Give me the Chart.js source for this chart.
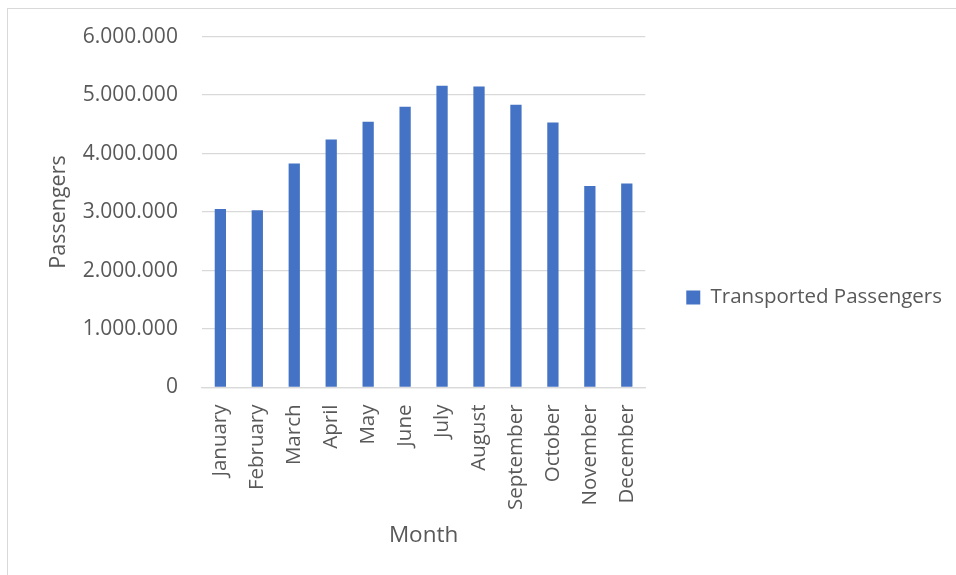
<!DOCTYPE html>
<html>
<head>
<meta charset="utf-8">
<script src="https://cdn.jsdelivr.net/npm/chart.js@4/dist/chart.umd.min.js"></script>
<style>
  html, body { margin: 0; padding: 0; background: #ffffff; }
  #wrap { position: relative; width: 956px; height: 575px; overflow: hidden; }
  #frame { position: absolute; left: 7px; top: 8px; width: 980px; height: 600px; border: 1px solid #d9d9d9; box-sizing: border-box; }
  #c { position: absolute; left: 0; top: 0; }
</style>
</head>
<body>
<div id="wrap">
  <div id="frame"></div>
  <canvas id="c" width="956" height="575"></canvas>
</div>
<script>
const months = ["January","February","March","April","May","June","July","August","September","October","November","December"];
const passengers = [3050000, 3030000, 3830000, 4240000, 4545000, 4800000, 5160000, 5145000, 4835000, 4530000, 3445000, 3490000];
const seriesName = "Transported Passengers";
const yTicks = [0, 1000000, 2000000, 3000000, 4000000, 5000000, 6000000];

const textColor = "#595959";
const gridColor = "#d9d9d9";
const fontFamily = "'Open Sans', sans-serif";

function fmt(v) {
  return String(Math.round(v)).replace(/\B(?=(\d{3})+(?!\d))/g, ".");
}

// shift the legend vertically after layout
const legendShift = {
  id: "legendShift",
  afterLayout(chart) {
    const l = chart.legend;
    if (!l) return;
    const dy = 10;
    l.top += dy;
    l.bottom += dy;
  }
};

new Chart(document.getElementById("c"), {
  type: "bar",
  data: {
    labels: months,
    datasets: [{
      label: seriesName,
      data: passengers,
      backgroundColor: "#4472C4",
      borderWidth: 0,
      barPercentage: 0.305,
      categoryPercentage: 1.0
    }]
  },
  options: {
    responsive: false,
    animation: false,
    devicePixelRatio: 1,
    layout: { padding: { left: 46, right: 4, top: 26, bottom: 26 } },
    plugins: {
      tooltip: { enabled: false },
      legend: {
        position: "right",
        maxWidth: 320,
        labels: {
          color: textColor,
          font: { family: fontFamily, size: 20.5 },
          boxWidth: 14,
          boxHeight: 14,
          padding: 41
        }
      }
    },
    scales: {
      x: {
        grid: { display: false, drawTicks: false },
        border: { display: true, color: gridColor, width: 1.3 },
        ticks: {
          color: textColor,
          font: { family: fontFamily, size: 20.5 },
          minRotation: 90,
          maxRotation: 90,
          padding: 17,
          autoSkip: false
        },
        title: {
          display: true,
          text: "Month",
          color: textColor,
          font: { family: fontFamily, size: 22.5 },
          padding: { top: -5, bottom: 0 }
        }
      },
      y: {
        min: 0,
        max: 6000000,
        afterBuildTicks: (axis) => { axis.ticks = yTicks.map(v => ({ value: v })); },
        grid: { color: gridColor, lineWidth: 1.3, drawTicks: false },
        border: { display: false },
        ticks: {
          color: textColor,
          font: { family: fontFamily, size: 21 },
          padding: 24,
          callback: (v) => fmt(v)
        },
        title: {
          display: true,
          text: "Passengers",
          color: textColor,
          font: { family: fontFamily, size: 21.5 },
          padding: { top: 0, bottom: -13 }
        }
      }
    }
  },
  plugins: [legendShift]
});
</script>
</body>
</html>
